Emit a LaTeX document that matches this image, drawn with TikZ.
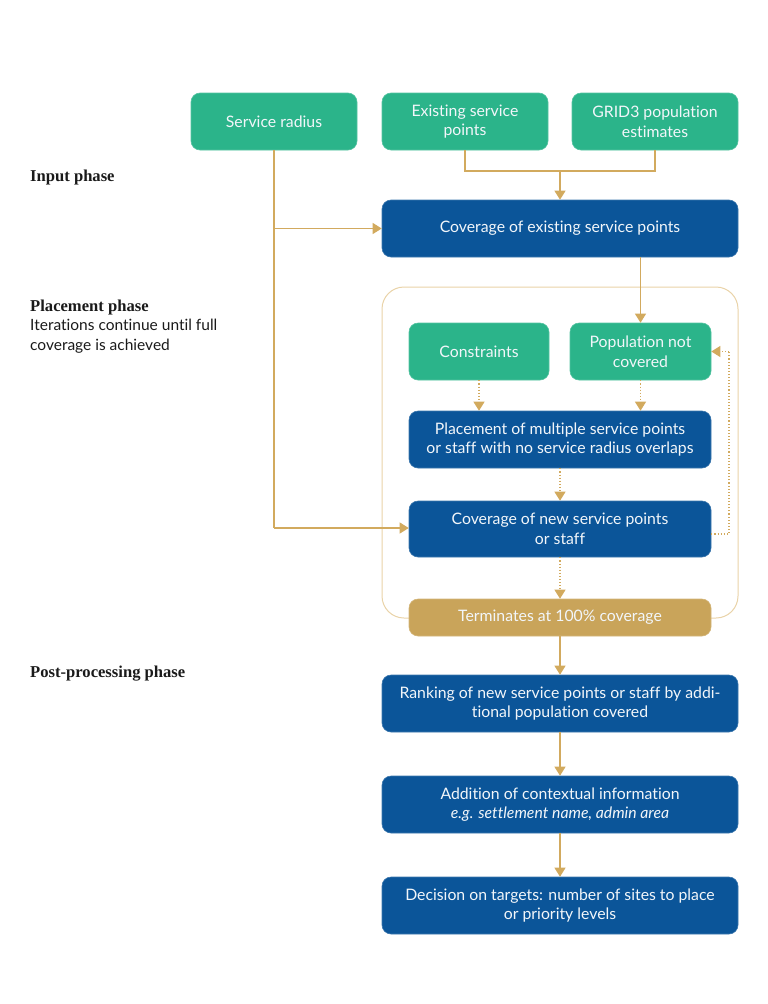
\documentclass[tikz,border=0pt]{standalone}
\usepackage{fontspec}
\setmainfont{Lato}[Ligatures=NoCommon]
\newfontfamily\labfont{Liberation Serif}
\usetikzlibrary{arrows.meta}
\definecolor{grn}{HTML}{2BB48A}
\definecolor{blu}{HTML}{0B5599}
\definecolor{gld}{HTML}{C9A45A}
\definecolor{arr}{HTML}{D2AA5E}
\definecolor{frm}{HTML}{E9D3A8}
\definecolor{txt}{HTML}{1A1A1A}
\definecolor{btx}{HTML}{F2F6FA}
\tikzset{
  box/.style={rounded corners=9pt, text=btx, align=center, inner sep=0pt,
    font=\fontsize{15.8}{19.5}\selectfont},
  gbox/.style={box, fill=grn, draw=grn!80!white, line width=0.6pt},
  bbox/.style={box, fill=blu, draw=blu!80!white, line width=0.6pt},
  tbox/.style={box, fill=gld, draw=gld!80!white, line width=0.6pt},
  conn/.style={draw=arr, line width=1.1pt, -{Triangle[width=11pt,length=9pt]}},
  plain/.style={draw=arr, line width=1.1pt},
  dconn/.style={draw=arr, line width=1.1pt, dotted, -{Triangle[width=11pt,length=9pt]}},
  dplain/.style={draw=arr, line width=1.1pt, dotted},
  lab/.style={anchor=west, text=txt, align=left, inner sep=0pt},
}
\begin{document}
\begin{tikzpicture}[x=1pt,y=-1pt]
\useasboundingbox (0,0) rectangle (768,1004);
% frame
\draw[frm, line width=1pt, rounded corners=22pt] (382,618) -- (382,287) -- (738,287) -- (738,618) -- cycle;
% nodes
\node[gbox, minimum width=166pt, minimum height=57pt] (sr) at (274,121.5) {Service radius};
\node[gbox, minimum width=166pt, minimum height=57pt] (esp) at (465,121.5) {Existing service\\points};
\node[gbox, minimum width=166pt, minimum height=57pt] (grid) at (655,121.5) {GRID3 population\\estimates};
\node[bbox, minimum width=356pt, minimum height=57pt] (cov) at (560,228.5) {Coverage of existing service points};
\node[gbox, minimum width=140pt, minimum height=57pt] (con) at (479,351.5) {Constraints};
\node[gbox, minimum width=141pt, minimum height=57pt] (pnc) at (640.5,351.5) {Population not\\covered};
\node[bbox, minimum width=302pt, minimum height=57pt] (plc) at (560,439.5) {Placement of multiple service points\\or staff with no service radius overlaps};
\node[bbox, minimum width=302pt, minimum height=56pt] (cnw) at (560,529) {Coverage of new service points\\or staff};
\node[tbox, minimum width=302pt, minimum height=37pt] (trm) at (560,617.5) {Terminates at 100\% coverage};
\node[bbox, minimum width=356pt, minimum height=57pt] (rnk) at (560,703.5) {Ranking of new service points or staff by addi-\\tional population covered};
\node[bbox, minimum width=356pt, minimum height=57pt] (add) at (560,804.5) {Addition of contextual information\\\textit{e.g. settlement name, admin area}};
\node[bbox, minimum width=356pt, minimum height=57pt] (dec) at (560,905.5) {Decision on targets: number of sites to place\\or priority levels};
% labels
\node[lab, font=\labfont\bfseries\fontsize{16.6}{19}\selectfont] (l1) at (30,177.5) {Input phase};
\node[lab, font=\labfont\bfseries\fontsize{16.6}{19}\selectfont] (l2) at (30,307.5) {Placement phase};
\node[lab, font=\fontsize{15.5}{19.5}\selectfont, anchor=north west] (l2b) at (30,319) {Iterations continue until full\\coverage is achieved};
\node[lab, font=\labfont\bfseries\fontsize{16.6}{19}\selectfont] (l3) at (30,673.5) {Post-processing phase};
% connectors
\coordinate (j1) at (560,171);
\draw[plain] (esp.south) |- (j1) -| (grid.south);
\draw[conn] (j1) -- (cov.north);
\coordinate (s1) at (274,228.5);
\coordinate (s2) at (274,528);
\draw[plain] (sr.south) -- (s2);
\draw[conn] (s1) -- (cov.west);
\draw[conn] (s2) -- (cnw.west |- s2);
\draw[conn] (cov.south -| pnc.north) -- (pnc.north);
\draw[dconn] (con.south) -- (plc.north -| con.south);
\draw[dconn] (pnc.south) -- (plc.north -| pnc.south);
\draw[dconn] (plc.south) -- (cnw.north);
\draw[dconn] (cnw.south) -- (trm.north);
\coordinate (lp1) at (729,534);
\coordinate (lp2) at (729,351.5);
\draw[dplain] (cnw.east |- lp1) -- (lp1) -- (lp2);
\draw[dconn] (lp2) -- (pnc.east);
\draw[conn] (trm.south) -- (rnk.north);
\draw[conn] (rnk.south) -- (add.north);
\draw[conn] (add.south) -- (dec.north);
\end{tikzpicture}
\end{document}
